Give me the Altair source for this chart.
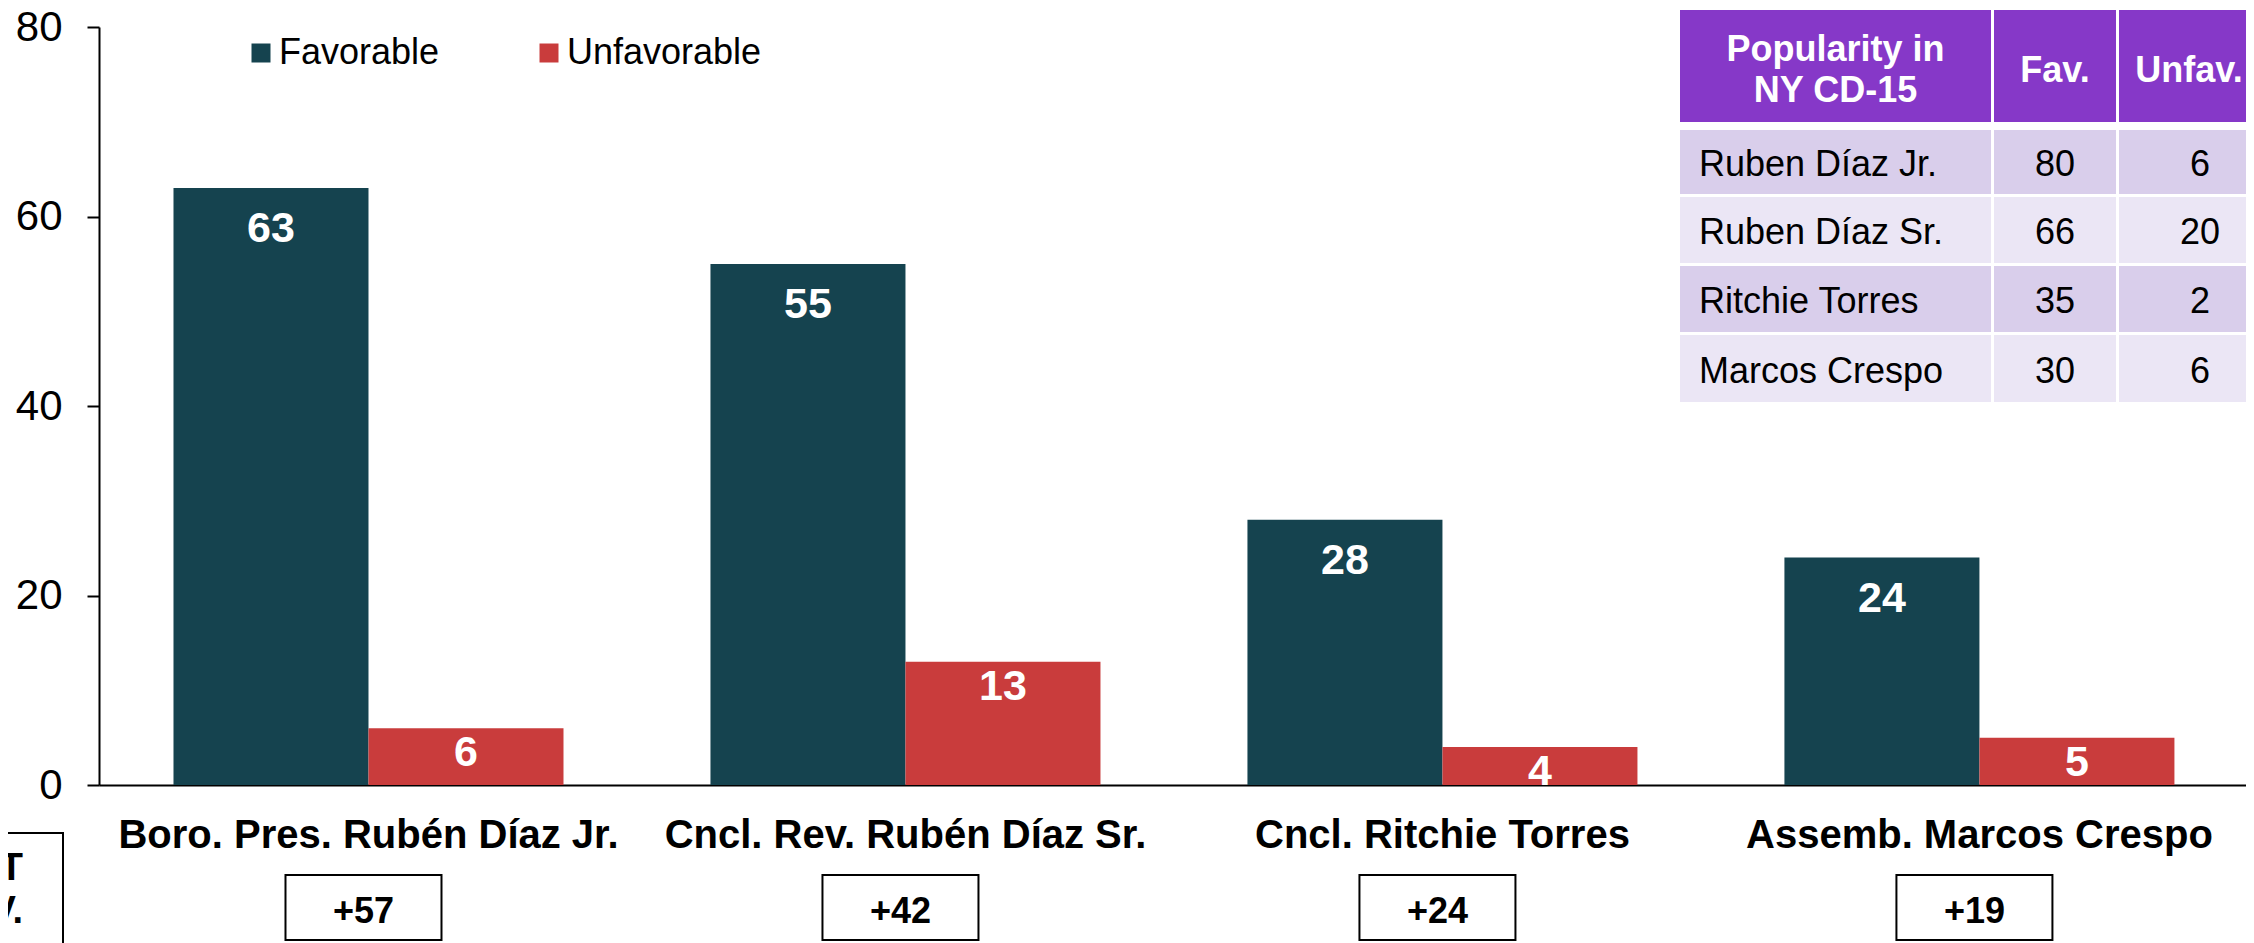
import altair as alt
import pandas as pd

# ---------------- data ----------------
CANDIDATES = [
    "Boro. Pres. Rubén Díaz Jr.",
    "Cncl. Rev. Rubén Díaz Sr.",
    "Cncl. Ritchie Torres",
    "Assemb. Marcos Crespo",
]
FAVORABLE = [63, 55, 28, 24]
UNFAVORABLE = [6, 13, 4, 5]
SERIES = ["Favorable", "Unfavorable"]
Y_TICKS = [0, 20, 40, 60, 80]

TABLE_HEADER = ["Popularity in", "NY CD-15", "Fav.", "Unfav."]
TABLE_NAMES = ["Ruben Díaz Jr.", "Ruben Díaz Sr.", "Ritchie Torres", "Marcos Crespo"]
TABLE_FAV = [80, 66, 35, 30]
TABLE_UNFAV = [6, 20, 2, 6]

NET_LABEL = ["NET", "FAV."]

# ---------------- styling / layout ----------------
SERIES_COLORS = ["#15434F", "#C93C3C"]
HEADER_FILL = "#8638C8"
ROW_FILLS = ["#D9CEEB", "#EBE6F5"]
FONT = "Liberation Sans"
W, H = 2147, 758

COL_EDGES = [(1581, 1892), (1895, 2017), (2020, 2182)]
ROW_EDGES = [(-17, 95), (103, 167), (170, 236), (239, 305), (308, 375)]
NAME_X = 1600
HEADER_TEXT_X = [1736.5, 1736.5, 1956, 2090]
HEADER_TEXT_Y = [34, 75, 55, 55]

# ---------------- tables ----------------
bars_df = pd.DataFrame(
    [{"candidate": c, "series": SERIES[0], "value": f} for c, f in zip(CANDIDATES, FAVORABLE)]
    + [{"candidate": c, "series": SERIES[1], "value": u} for c, u in zip(CANDIDATES, UNFAVORABLE)]
)
wide_df = pd.DataFrame({"candidate": CANDIDATES, "fav": FAVORABLE, "unfav": UNFAVORABLE})

x_enc = alt.X(
    "candidate:N",
    scale=alt.Scale(domain=CANDIDATES, paddingInner=0.2737, paddingOuter=0.136, align=0.51),
    axis=alt.Axis(
        title=None, labelAngle=0, ticks=False, tickSize=0, labelPadding=30,
        labelFontSize=40, labelFontWeight="bold", labelColor="black", labelFont=FONT,
        domainColor="black", domainWidth=2, labelLimit=1000,
    ),
)
xoff_enc = alt.XOffset("series:N", scale=alt.Scale(domain=SERIES, paddingInner=0, paddingOuter=0))
y_enc = alt.Y(
    "value:Q",
    scale=alt.Scale(domain=[0, 80], nice=False),
    axis=alt.Axis(
        title=None, values=Y_TICKS, grid=False, domainColor="black", domainWidth=2,
        tickColor="black", tickWidth=2, tickSize=12, labelFontSize=42, labelPadding=25,
        labelColor="black", labelFont=FONT,
    ),
)

legend = alt.Legend(
    title=None, orient="none", legendX=144, legendY=8, direction="horizontal",
    symbolType="square", symbolSize=361, symbolStrokeWidth=0, labelFontSize=36,
    labelFont=FONT, labelColor="black", labelOffset=0, columnPadding=91,
    labelLimit=400, padding=0,
)

bars = alt.Chart(bars_df).mark_bar().encode(
    x=x_enc, xOffset=xoff_enc, y=y_enc,
    color=alt.Color("series:N", scale=alt.Scale(domain=SERIES, range=SERIES_COLORS), legend=legend),
)

fav_labels = alt.Chart(bars_df).transform_filter(alt.datum.series == SERIES[0]).mark_text(
    color="white", fontSize=43, fontWeight="bold", baseline="alphabetic", dy=54, font=FONT
).encode(x=x_enc, xOffset=xoff_enc, y=y_enc, text="value:Q")

unfav_labels = alt.Chart(bars_df).transform_filter(alt.datum.series == SERIES[1]).mark_text(
    color="white", fontSize=43, fontWeight="bold", baseline="alphabetic", dy=38, font=FONT
).encode(x=x_enc, xOffset=xoff_enc, y=y_enc, text="value:Q")

net_boxes = alt.Chart(wide_df).mark_bar(
    width=156, xOffset=-5, fill="white", stroke="black", strokeWidth=2
).encode(x=x_enc, y=alt.value(848), y2=alt.value(913))

net_text = alt.Chart(wide_df).transform_calculate(
    net="'+' + (datum.fav - datum.unfav)"
).mark_text(fontSize=36, fontWeight="bold", xOffset=-5, baseline="alphabetic", color="black", font=FONT).encode(
    x=x_enc, y=alt.value(896), text="net:N"
)

one = pd.DataFrame({"k": [0]})
net_side_box = alt.Chart(one).mark_rect(fill="white", stroke="black", strokeWidth=2).encode(
    x=alt.value(-200), x2=alt.value(-36), y=alt.value(806), y2=alt.value(1000)
)
net_side_text = alt.Chart(one).mark_text(
    align="right", baseline="alphabetic", fontSize=38, fontWeight="bold", lineHeight=43,
    text=NET_LABEL, color="black", font=FONT,
).encode(x=alt.value(-76), y=alt.value(853))

# table cells
cells = []
for r, (y0, y1) in enumerate(ROW_EDGES):
    fill = HEADER_FILL if r == 0 else ROW_FILLS[(r - 1) % 2]
    for (x0, x1) in COL_EDGES:
        cells.append({"x0": x0, "x1": x1, "y0": y0, "y1": y1, "fill": fill})
cells_df = pd.DataFrame(cells)

table_cells = alt.Chart(cells_df).mark_rect().encode(
    x=alt.X("x0:Q", scale=None, axis=None), x2="x1:Q",
    y=alt.Y("y0:Q", scale=None, axis=None), y2="y1:Q",
    fill=alt.Fill("fill:N", scale=None),
)

hdr_df = pd.DataFrame({"text": TABLE_HEADER, "x": HEADER_TEXT_X, "y": HEADER_TEXT_Y})
table_header = alt.Chart(hdr_df).mark_text(
    fontSize=36, fontWeight="bold", color="white", baseline="alphabetic", font=FONT
).encode(x=alt.X("x:Q", scale=None, axis=None), y=alt.Y("y:Q", scale=None, axis=None), text="text:N")

row_base = [(a + b) / 2 + 14 for a, b in ROW_EDGES[1:]]
names_df = pd.DataFrame({"text": TABLE_NAMES, "x": [NAME_X] * 4, "y": row_base})
table_names = alt.Chart(names_df).mark_text(
    fontSize=36, color="black", align="left", baseline="alphabetic", font=FONT
).encode(x=alt.X("x:Q", scale=None, axis=None), y=alt.Y("y:Q", scale=None, axis=None), text="text:N")

nums = []
for yb, f, u in zip(row_base, TABLE_FAV, TABLE_UNFAV):
    nums.append({"text": str(f), "x": (COL_EDGES[1][0] + COL_EDGES[1][1]) / 2, "y": yb})
    nums.append({"text": str(u), "x": (COL_EDGES[2][0] + COL_EDGES[2][1]) / 2, "y": yb})
nums_df = pd.DataFrame(nums)
table_nums = alt.Chart(nums_df).mark_text(
    fontSize=36, color="black", baseline="alphabetic", font=FONT
).encode(x=alt.X("x:Q", scale=None, axis=None), y=alt.Y("y:Q", scale=None, axis=None), text="text:N")

chart = alt.layer(
    bars, fav_labels, unfav_labels, net_boxes, net_text, net_side_box, net_side_text,
    table_cells, table_header, table_names, table_nums,
).properties(
    width=W, height=H,
    autosize=alt.AutoSizeParams(type="none"),
    padding={"left": 91, "top": 19, "right": 0, "bottom": 158},
).configure(font=FONT).configure_view(stroke=None).configure_axis(grid=False)

chart.save("out.html", embed_options={"renderer": "svg", "actions": False})
